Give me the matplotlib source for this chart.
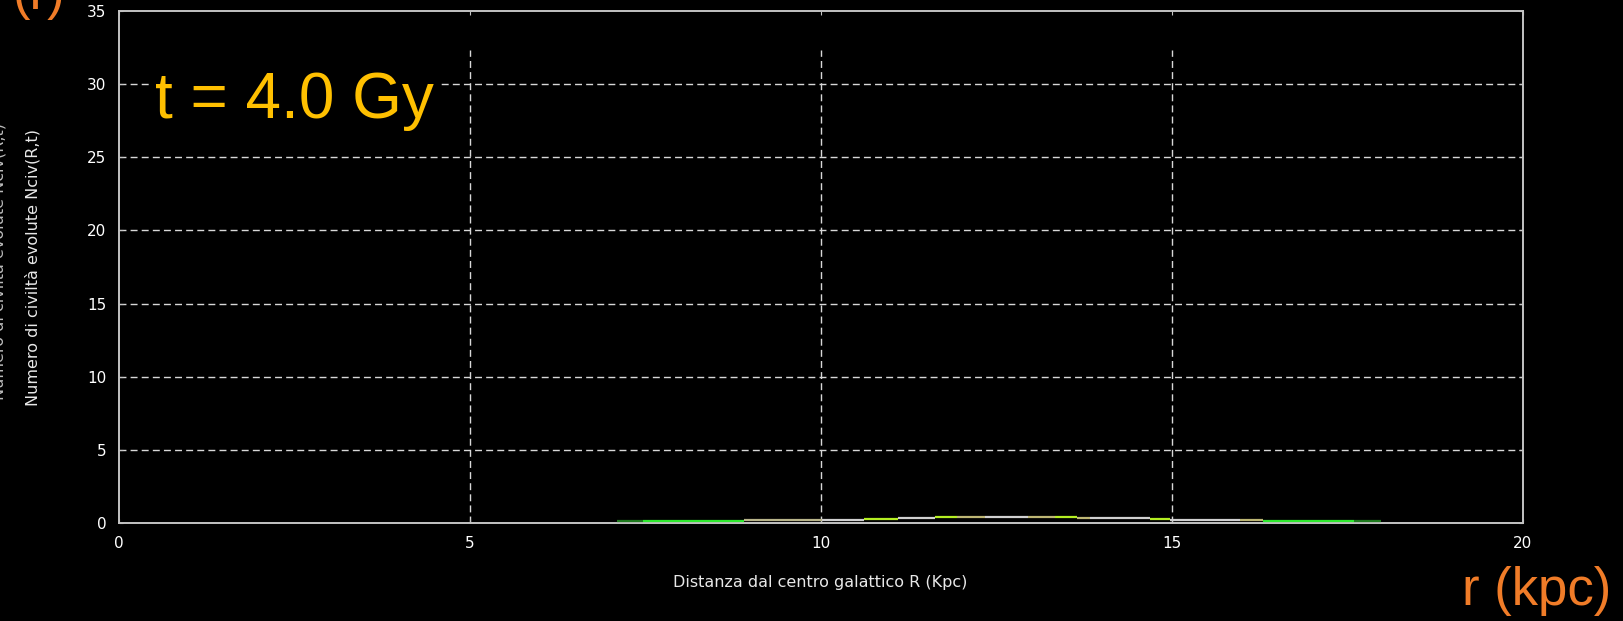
import matplotlib
matplotlib.use("Agg")
import matplotlib.pyplot as plt

# Radial distribution of evolved civilisations at t = 4.0 Gy
seg_start = [7.09, 7.46, 8.90, 10.01, 10.61, 11.10, 11.62, 11.94, 12.34,
             12.95, 13.33, 13.65, 13.83, 14.69, 14.97, 15.97, 16.30, 17.59]
seg_end = [7.46, 8.90, 10.01, 10.61, 11.10, 11.62, 11.94, 12.34, 12.95,
           13.33, 13.65, 13.83, 14.69, 14.97, 15.97, 16.30, 17.59, 17.98]
n_civ = [0.12, 0.12, 0.20, 0.23, 0.25, 0.37, 0.39, 0.39, 0.41,
         0.39, 0.39, 0.37, 0.34, 0.27, 0.23, 0.23, 0.12, 0.12]
seg_colors = ["#1e7a1e", "#2ee82e", "#b8b48a", "#d0d0d0", "#b4ee22", "#d0d0d0",
              "#b4ee22", "#bdb674", "#d0d0d0", "#bdb674", "#b4ee22", "#bdb674",
              "#d0d0d0", "#b4ee22", "#d0d0d0", "#bdb674", "#2ee82e", "#1e7a1e"]

x_ticks = [0, 5, 10, 15, 20]
y_ticks = [0, 5, 10, 15, 20, 25, 30, 35]
time_label = "t = 4.0 Gy"
y_label = "Numero di civiltà evolute Nciv(R,t)"
x_label = "Distanza dal centro galattico R (Kpc)"

W, H = 1623, 621
fig = plt.figure(figsize=(W / 100, H / 100), dpi=100, facecolor="black")
ax = fig.add_axes([119 / W, 1 - 523 / H, (1523 - 119) / W, (523 - 11) / H])
ax.set_facecolor("black")

ax.set_xlim(0, 20)
ax.set_ylim(0, 35)

# dashed grid
grid_kw = dict(color="#d8d8d8", lw=1.0, dashes=(5, 3))
for y in y_ticks[1:-1]:
    ax.axhline(y, zorder=1, **grid_kw)
for x in x_ticks[1:-1]:
    ax.axvline(x, ymin=0, ymax=32.3 / 35, zorder=1, **grid_kw)

ax.hlines(n_civ, seg_start, seg_end, colors=seg_colors, lw=1.6, zorder=3)

for s in ax.spines.values():
    s.set_color("#c4c4c4")
    s.set_linewidth(1.4)

ax.set_xticks(x_ticks)
ax.set_yticks(y_ticks)
ax.tick_params(direction="in", length=3, color="#c4c4c4", top=True, right=True,
               labelcolor="white", labelsize=11, pad=9)

ax.text(155 / W, 1 - 118 / H, time_label, transform=fig.transFigure,
        fontsize=46, color="#ffc000", family="Liberation Sans", va="baseline",
        ha="left", zorder=5,
        bbox=dict(facecolor="black", edgecolor="none", pad=4))

fig.text(820 / W, 1 - 583 / H, x_label, color="#e8e8e8", fontsize=11.5,
         ha="center", va="center")
fig.text(33 / W, 1 - 267 / H, y_label, color="#e8e8e8", fontsize=11.5,
         ha="center", va="center", rotation=90)
fig.text(-1 / W, 1 - 261 / H, y_label, color="#bbbbbb", fontsize=11.5,
         ha="center", va="center", rotation=90)

fig.text(1462 / W, 1 - 605 / H, "r (kpc)", color="#f07c28", fontsize=38,
         family="Liberation Sans", ha="left", va="baseline")
fig.text(13 / W, 1 - 9 / H, "(r)", color="#f07c28", fontsize=38,
         family="Liberation Sans", ha="left", va="baseline")

fig.savefig("out.png", dpi=100, facecolor="black")
